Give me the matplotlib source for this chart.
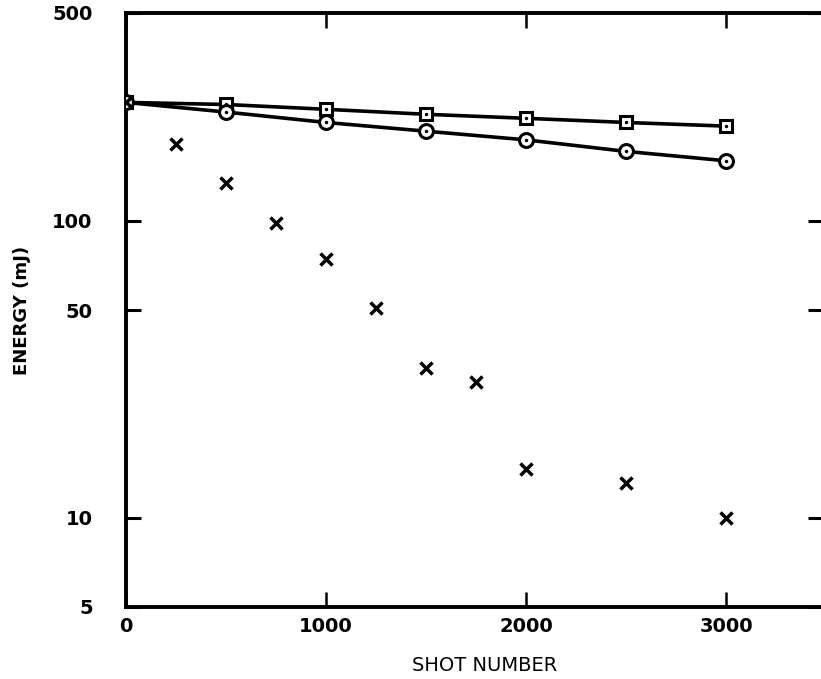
import matplotlib
matplotlib.use("Agg")
import matplotlib.pyplot as plt
from matplotlib.ticker import FixedLocator, NullLocator

plt.rcParams['font.family'] = ['DejaVu Sans Condensed', 'DejaVu Sans']

# Data
sq_x = [0, 500, 1000, 1500, 2000, 2500, 3000]
sq_y = [250, 246, 237, 228, 221, 214, 208]

ci_x = [0, 500, 1000, 1500, 2000, 2500, 3000]
ci_y = [250, 232, 214, 200, 187, 171, 159]

x_x = [0, 250, 500, 750, 1000, 1250, 1500, 1750, 2000, 2500, 3000]
x_y = [250, 181, 134, 98.5, 74, 50.8, 32, 28.7, 14.6, 13.1, 10]

x_ticks = [0, 1000, 2000, 3000]
y_ticks = [5, 10, 50, 100, 500]
y_tick_labels = ['5', '10', '50', '100', '500']

W, H = 821, 679
fig = plt.figure(figsize=(W / 100, H / 100), dpi=100)
left, right = 126 / W, 823 / W
bottom, top = (H - 607) / H, (H - 13) / H
ax = fig.add_axes([left, bottom, right - left, top - bottom])

ax.set_yscale('log')
ax.set_xlim(0, (823 - 126) / 200 * 1000)
ax.set_ylim(5, 500)

ax.plot(sq_x, sq_y, color='black', lw=2.6, marker='s', ms=8, mfc='white',
        mec='black', mew=2.2, zorder=3)
ax.plot(sq_x, sq_y, ls='none', marker='.', ms=3, color='black', zorder=4)
ax.plot(ci_x, ci_y, color='black', lw=2.6, marker='o', ms=10, mfc='white',
        mec='black', mew=2.2, zorder=3)
ax.plot(ci_x, ci_y, ls='none', marker='.', ms=3, color='black', zorder=4)
ax.plot(x_x, x_y, ls='none', marker='x', ms=8, mew=2.5, color='black', zorder=5)

for s in ['left', 'bottom', 'top']:
    ax.spines[s].set_linewidth(2.8)
ax.spines['right'].set_visible(False)

ax.xaxis.set_major_locator(FixedLocator(x_ticks))
ax.xaxis.set_minor_locator(NullLocator())
ax.yaxis.set_major_locator(FixedLocator(y_ticks))
ax.yaxis.set_minor_locator(NullLocator())
ax.set_xticklabels([str(v) for v in x_ticks])
ax.set_yticklabels(y_tick_labels)

ax.tick_params(axis='x', which='major', direction='in', length=11, width=1.8,
               top=True, bottom=True, labelsize=14, pad=7)
ax.tick_params(axis='y', which='major', direction='in', length=11, width=2.2,
               left=True, right=True, labelsize=14, pad=24)
for lab in ax.get_xticklabels() + ax.get_yticklabels():
    lab.set_fontweight('bold')

ax.set_xlabel('SHOT NUMBER', fontsize=14)
ax.xaxis.set_label_coords(0.515, -0.082)
ax.set_ylabel('ENERGY (mJ)', fontsize=13, fontweight='bold')
ax.yaxis.set_label_coords(-0.137, 0.5)

fig.savefig('out.png', dpi=100)
